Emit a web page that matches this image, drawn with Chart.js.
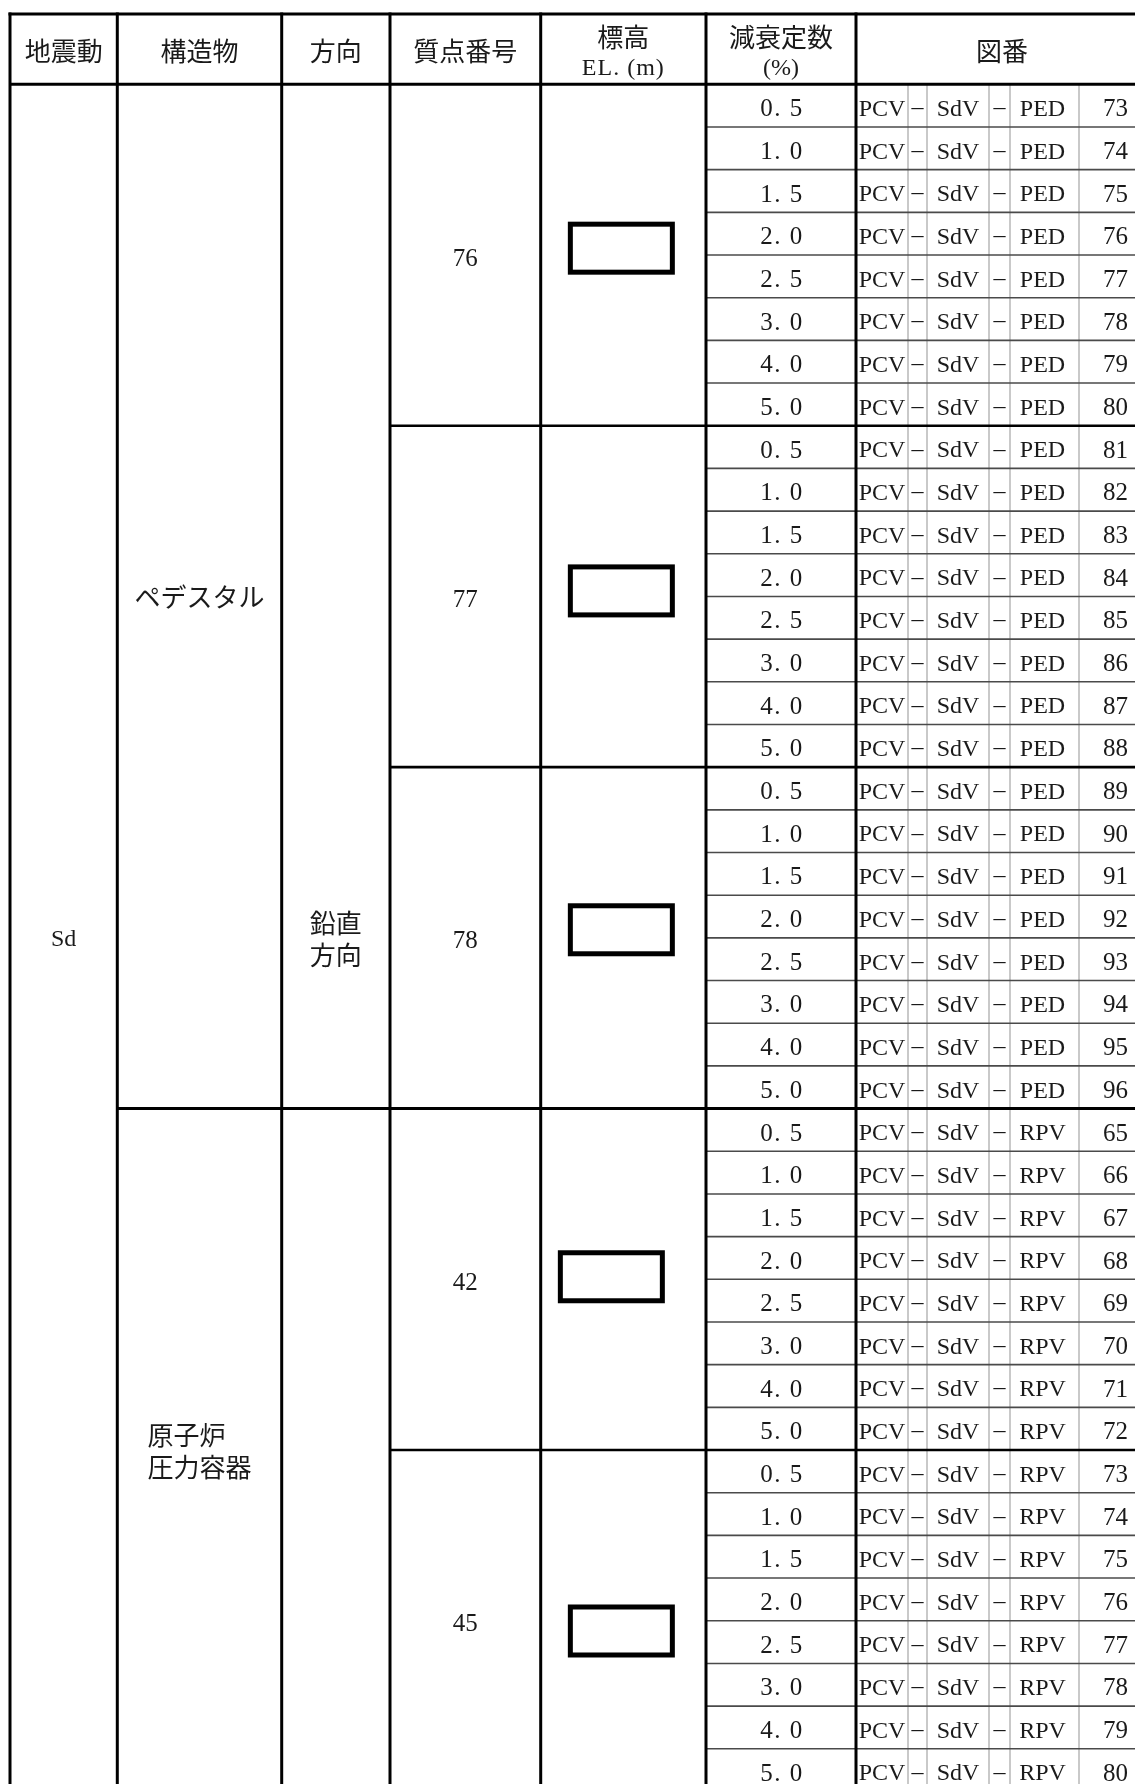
<!DOCTYPE html>
<html>
<head>
<meta charset="utf-8">
<script src="https://cdn.jsdelivr.net/npm/chart.js@4/dist/chart.umd.min.js"></script>
<style>
  html, body { margin: 0; padding: 0; background: #ffffff; }
  #wrap { width: 1135px; height: 1784px; overflow: hidden; }
  canvas { display: block; }
</style>
</head>
<body>
<div id="wrap"><canvas id="c" width="1135" height="1784"></canvas></div>
<script>
// ---------------- data ----------------
const headers = [["地震動"], ["構造物"], ["方向"], ["質点番号"], ["標高", "EL. (m)"], ["減衰定数", "(%)"], ["図番"]];
const earthquake = ["Sd"];
const directionLines = ["鉛直", "方向"];
const structureNames = [["ペデスタル"], ["原子炉", "圧力容器"]];
const structureGroupCounts = [3, 2];
const massPoints = ["76", "77", "78", "42", "45"];
const dampingRatios = ["0. 5", "1. 0", "1. 5", "2. 0", "2. 5", "3. 0", "4. 0", "5. 0"];
const figPrefix = ["PCV", "SdV"];
const figTarget = ["PED", "PED", "PED", "RPV", "RPV"];
const figNumbers = [
  [73, 74, 75, 76, 77, 78, 79, 80],
  [81, 82, 83, 84, 85, 86, 87, 88],
  [89, 90, 91, 92, 93, 94, 95, 96],
  [65, 66, 67, 68, 69, 70, 71, 72],
  [73, 74, 75, 76, 77, 78, 79, 80]
];

// ---------------- layout (pixels on the x scale, rows on the y scale) ----------------
const COLS = [10, 117.3, 281.7, 390, 540.7, 706, 856, 1148];
const FIG_SUB = [856, 908, 927, 989, 1010, 1079, 1148];
const HEADER_TOP = -1.647;          // in row units
const maskOffsets = [[0, -0.16], [0, -0.13], [0, -0.19], [-10, -0.06], [0, 0.24]];
const MASK_W = 107, MASK_H = 53;
const TXT_DY = 4;

const JP = '26px "Noto Sans CJK JP", "Noto Sans CJK SC", sans-serif';
const LAT = '24px "Liberation Serif", "Noto Sans CJK JP", serif';
const NUM = '25px "Liberation Serif", serif';

const tablePlugin = {
  id: 'tablePlugin',
  afterDraw(chart) {
    const ctx = chart.ctx;
    const xs = chart.scales.x, ys = chart.scales.y;
    const X = v => xs.getPixelForValue(v);
    const Y = v => ys.getPixelForValue(v);
    const nGroups = massPoints.length;
    const nRows = nGroups * dampingRatios.length;
    const bottom = Y(nRows);

    ctx.save();
    ctx.fillStyle = '#ffffff';
    ctx.fillRect(0, 0, chart.width, chart.height);

    function line(x1, y1, x2, y2, w, c) {
      ctx.beginPath();
      ctx.lineWidth = w; ctx.strokeStyle = c; ctx.lineCap = 'butt';
      ctx.moveTo(x1, y1); ctx.lineTo(x2, y2); ctx.stroke();
    }
    function text(s, x, y, font, align, spacing) {
      ctx.font = font;
      ctx.textAlign = align || 'center';
      ctx.textBaseline = 'middle';
      ctx.fillStyle = '#1a1a1a';
      try { ctx.letterSpacing = spacing || '0px'; } catch (e) {}
      ctx.fillText(s, x, y);
      try { ctx.letterSpacing = '0px'; } catch (e) {}
    }

    // light grey separators inside 図番
    for (let i = 1; i < FIG_SUB.length - 1; i++) {
      line(X(FIG_SUB[i]), Y(0), X(FIG_SUB[i]), bottom + 10, 2, '#c9c9c9');
    }
    // thin row lines (damping & 図番 columns)
    for (let r = 1; r < nRows; r++) {
      if (r % dampingRatios.length === 0) continue;
      line(X(COLS[5]), Y(r), X(COLS[7]), Y(r), 1.6, '#4a4a4a');
    }
    // group separators
    for (let g = 1; g < nGroups; g++) {
      const r = g * dampingRatios.length;
      line(X(COLS[3]), Y(r), X(COLS[7]), Y(r), 2.6, '#000');
    }
    // structure separators
    let rowAcc = 0;
    for (let s = 0; s < structureGroupCounts.length - 1; s++) {
      rowAcc += structureGroupCounts[s] * dampingRatios.length;
      line(X(COLS[1]), Y(rowAcc), X(COLS[7]), Y(rowAcc), 3, '#000');
    }
    // header top & bottom
    line(X(COLS[0]) - 1.5, Y(HEADER_TOP), X(COLS[7]), Y(HEADER_TOP), 3, '#000');
    line(X(COLS[0]), Y(0), X(COLS[7]), Y(0), 3, '#000');
    // vertical major lines
    for (let i = 0; i < COLS.length - 1; i++) {
      line(X(COLS[i]), Y(HEADER_TOP) - 1.5, X(COLS[i]), bottom + 10, 3, '#000');
    }

    // header texts
    const hMid = (Y(HEADER_TOP) + Y(0)) / 2;
    headers.forEach((h, i) => {
      const cx = (X(COLS[i]) + X(COLS[i + 1])) / 2;
      if (h.length === 1) {
        text(h[0], cx, hMid + 2, JP);
      } else {
        text(h[0], cx, hMid - 12, JP);
        if (h[1] === '(%)') {
          text(h[1], cx, hMid + 20, '24px "Liberation Serif", serif');
        } else {
          text(h[1], cx, hMid + 20, '24px "Liberation Serif", serif', 'center', '1px');
        }
      }
    });

    // 地震動
    const bodyMid = (Y(0) + bottom) / 2;
    text(earthquake[0], (X(COLS[0]) + X(COLS[1])) / 2, bodyMid + 2, '24px "Liberation Serif", serif');
    // 方向
    const dcx = (X(COLS[2]) + X(COLS[3])) / 2;
    text(directionLines[0], dcx, bodyMid - 15, JP);
    text(directionLines[1], dcx, bodyMid + 17, JP);

    // 構造物
    rowAcc = 0;
    structureNames.forEach((lines, s) => {
      const r0 = rowAcc;
      rowAcc += structureGroupCounts[s] * dampingRatios.length;
      const y0 = Y(r0), y1 = Y(rowAcc);
      const cy = (y0 + y1) / 2;
      const cx = (X(COLS[1]) + X(COLS[2])) / 2;
      if (lines.length === 1) {
        text(lines[0], cx, cy + 1, JP);
      } else {
        ctx.font = JP;
        const w = Math.max(...lines.map(l => ctx.measureText(l).width));
        const left = cx - w / 2;
        text(lines[0], left, cy - 15, JP, 'left');
        text(lines[1], left, cy + 17, JP, 'left');
      }
    });

    // groups
    massPoints.forEach((mp, g) => {
      const r0 = g * dampingRatios.length;
      const r1 = r0 + dampingRatios.length;
      const cy = (Y(r0) + Y(r1)) / 2;
      text(mp, (X(COLS[3]) + X(COLS[4])) / 2, cy + TXT_DY, NUM);
      // redacted elevation box
      const mcx = (X(COLS[4]) + X(COLS[5])) / 2 - 2 + maskOffsets[g][0];
      const mcy = Y((r0 + r1) / 2 + maskOffsets[g][1]);
      ctx.lineWidth = 5; ctx.strokeStyle = '#000';
      ctx.strokeRect(mcx - MASK_W / 2 + 2.5, mcy - MASK_H / 2 + 2.5, MASK_W - 5, MASK_H - 5);

      dampingRatios.forEach((d, i) => {
        const r = r0 + i;
        const ry = (Y(r) + Y(r + 1)) / 2 + TXT_DY;
        text(d, (X(COLS[5]) + X(COLS[6])) / 2 + 1, ry, NUM, 'center', '1.5px');
        const sc = k => (X(FIG_SUB[k]) + X(FIG_SUB[k + 1])) / 2;
        text(figPrefix[0], sc(0), ry, LAT);
        text('－', sc(1), ry - 1, '17px "Noto Sans CJK JP", sans-serif');
        text(figPrefix[1], sc(2), ry, LAT);
        text('－', sc(3), ry - 1, '17px "Noto Sans CJK JP", sans-serif');
        text(figTarget[g], sc(4) - 2, ry, LAT);
        text(String(figNumbers[g][i]), X(1128), ry, NUM, 'right');
      });
    });
    ctx.restore();
  }
};

new Chart(document.getElementById('c'), {
  type: 'scatter',
  data: { datasets: [{ data: [], pointRadius: 0 }] },
  options: {
    responsive: false,
    animation: false,
    devicePixelRatio: 1,
    layout: { padding: 0 },
    events: [],
    plugins: { legend: { display: false }, tooltip: { enabled: false }, title: { display: false } },
    scales: {
      x: { type: 'linear', min: 0, max: 1135, display: false },
      y: { type: 'linear', min: -1.975, max: 39.825, reverse: true, display: false }
    }
  },
  plugins: [tablePlugin]
});
</script>
</body>
</html>
